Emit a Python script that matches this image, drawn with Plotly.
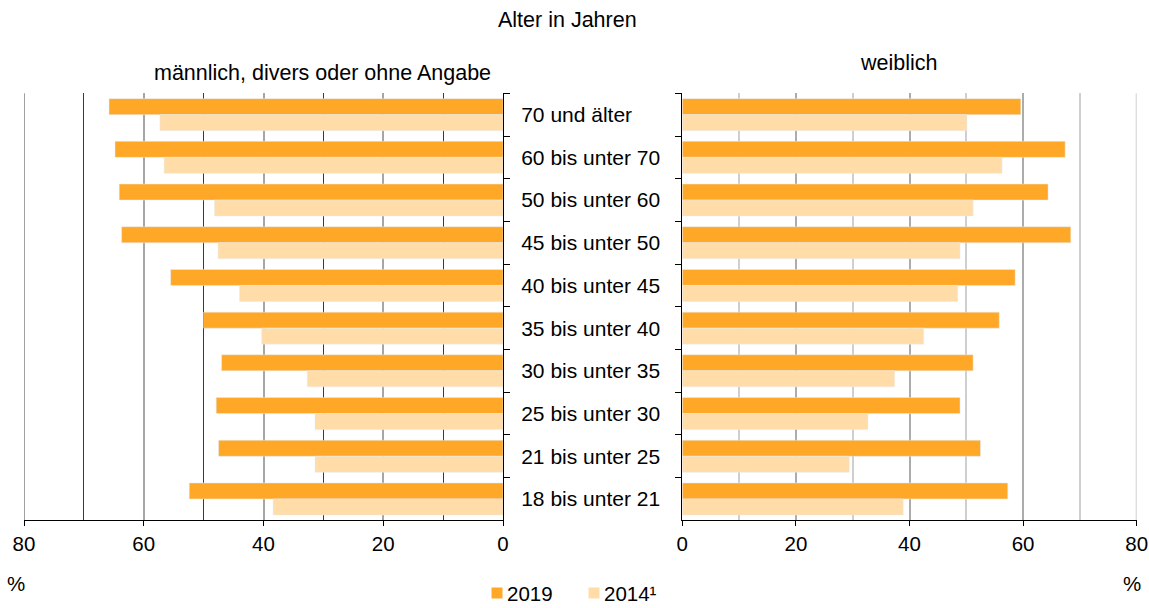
import plotly.graph_objects as go

# ---- data ----
age_groups = ["70 und älter", "60 bis unter 70", "50 bis unter 60", "45 bis unter 50",
              "40 bis unter 45", "35 bis unter 40", "30 bis unter 35", "25 bis unter 30",
              "21 bis unter 25", "18 bis unter 21"]
male_2019 = [65.8, 64.8, 64.1, 63.7, 55.5, 50.0, 47.0, 47.9, 47.5, 52.4]
male_2014 = [57.3, 56.6, 48.2, 47.6, 44.0, 40.3, 32.7, 31.4, 31.4, 38.4]
female_2019 = [59.6, 67.4, 64.4, 68.4, 58.6, 55.8, 51.2, 48.9, 52.5, 57.3]
female_2014 = [50.1, 56.3, 51.2, 48.9, 48.5, 42.5, 37.4, 32.7, 29.4, 38.9]
series_names = ["2019", "2014¹"]
x_ticks = [0, 20, 40, 60, 80]
x_max = 80

C19 = "#FFA726"
C14 = "#FFDCA8"
FONT = "Arial, 'Liberation Sans', sans-serif"

W, H = 1149, 608


def px(x):
    return x / W


def py(y):
    return 1 - y / H


fig = go.Figure()
fig.add_trace(go.Bar(y=age_groups, x=male_2019, orientation="h", marker_color=C19,
                     name=series_names[0], xaxis="x", yaxis="y", showlegend=False))
fig.add_trace(go.Bar(y=age_groups, x=male_2014, orientation="h", marker_color=C14,
                     name=series_names[1], xaxis="x", yaxis="y", showlegend=False))
fig.add_trace(go.Bar(y=age_groups, x=female_2019, orientation="h", marker_color=C19,
                     name=series_names[0], xaxis="x2", yaxis="y2", showlegend=False))
fig.add_trace(go.Bar(y=age_groups, x=female_2014, orientation="h", marker_color=C14,
                     name=series_names[1], xaxis="x2", yaxis="y2", showlegend=False))

ydom = [py(520.3), py(93.3)]

common_x = dict(tickvals=x_ticks, ticktext=[str(v) for v in x_ticks], showline=True,
                linecolor="#000", linewidth=1, ticks="outside", ticklen=5, tickcolor="#000",
                tickfont=dict(size=20.5, color="#000", family=FONT), zeroline=False,
                showgrid=True, automargin=False, ticklabeloverflow="allow")

fig.update_layout(
    width=W, height=H, margin=dict(l=0, r=0, t=0, b=0, pad=0), autosize=False,
    paper_bgcolor="white", plot_bgcolor="white",
    barmode="group", bargap=0.25, bargroupgap=0, showlegend=False,
    font=dict(family=FONT, color="#000"),
    xaxis=dict(domain=[px(24), px(503)], range=[x_max, 0], anchor="y",
               gridcolor="#a6a6a6", gridwidth=2,
               minor=dict(dtick=10, tick0=0, showgrid=True, gridcolor="#3a3a3a", gridwidth=1, ticks=""),
               **common_x),
    xaxis2=dict(domain=[px(682.3), px(1136.7)], range=[0, x_max], anchor="y2",
                gridcolor="#acacac", gridwidth=2,
                minor=dict(dtick=10, tick0=0, showgrid=True, gridcolor="#cfcfcf", gridwidth=2, ticks=""),
                **common_x),
    yaxis=dict(domain=ydom, type="category", categoryarray=age_groups, categoryorder="array",
               autorange="reversed", anchor="x", side="right", showline=True,
               linecolor="#000", linewidth=1, ticks="outside", ticklen=6, tickcolor="#000",
               tickson="boundaries", ticklabelstandoff=13, showgrid=False, automargin=False,
               tickfont=dict(size=21, color="#000", family=FONT)),
    yaxis2=dict(domain=ydom, type="category", categoryarray=age_groups, categoryorder="array",
                autorange="reversed", anchor="x2", side="left", showline=True,
                linecolor="#000", linewidth=1, ticks="outside", ticklen=6, tickcolor="#000",
                tickson="boundaries", showticklabels=False, showgrid=False, automargin=False),
)

# edge gridlines at 80 (plotly omits gridlines on the range ends)
fig.add_shape(type="line", xref="x", yref="paper", x0=x_max, x1=x_max, y0=ydom[0], y1=ydom[1],
              line=dict(color="#a0a0a0", width=2), layer="below")
fig.add_shape(type="line", xref="x2", yref="paper", x0=x_max, x1=x_max, y0=ydom[0], y1=ydom[1],
              line=dict(color="#d0d0d0", width=2), layer="below")

ann = [
    dict(text="Alter in Jahren", x=px(567), y=py(20), size=21.5),
    dict(text="männlich, divers oder ohne Angabe", x=px(322), y=py(73), size=21.5),
    dict(text="weiblich", x=px(899), y=py(63), size=21.5),
    dict(text="%", x=px(16), y=py(583), size=20.5),
    dict(text="%", x=px(1132), y=py(583), size=20.5),
]
for a in ann:
    size = a.pop("size")
    fig.add_annotation(xref="paper", yref="paper", showarrow=False, xanchor="center",
                       yanchor="middle", font=dict(size=size, family=FONT, color="#000"), **a)

# manual legend
leg = [(497, series_names[0], C19), (594, series_names[1], C14)]
for cx, name, col in leg:
    fig.add_shape(type="rect", xref="paper", yref="paper",
                  x0=px(cx - 5.5), x1=px(cx + 5.5),
                  y0=py(593 + 5.5), y1=py(593 - 5.5),
                  fillcolor=col, line=dict(width=0))
    fig.add_annotation(xref="paper", yref="paper", showarrow=False, x=px(cx + 8),
                       y=py(593), xanchor="left", yanchor="middle", text=name,
                       font=dict(size=20.5, family=FONT, color="#000"))

fig.write_html(
    "out.html",
    config={"displayModeBar": False},
    post_script="document.body.style.margin='0';document.body.style.overflow='hidden';",
)
